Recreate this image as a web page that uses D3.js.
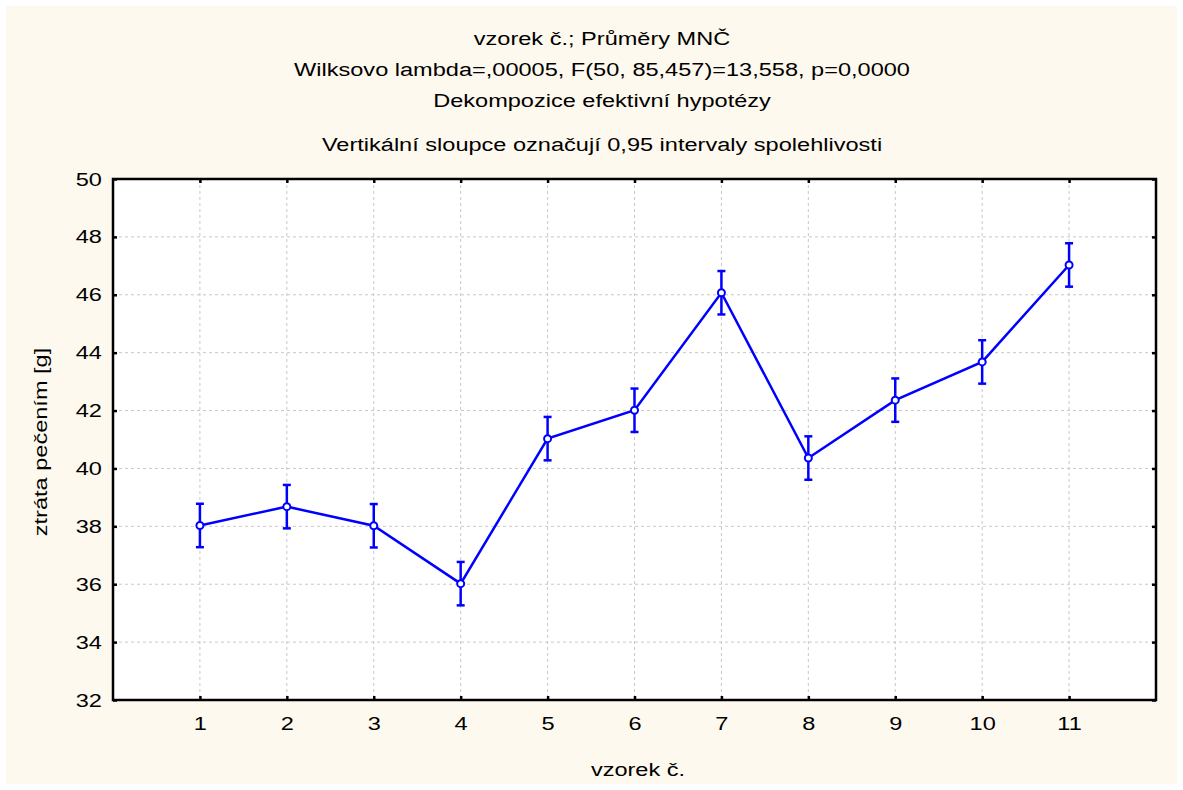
<!DOCTYPE html>
<html>
<head>
<meta charset="utf-8">
<script src="https://cdn.jsdelivr.net/npm/d3@7"></script>
<style>
  body { margin: 0; background: #fff; }
  text { font-family: "Liberation Sans", Arial, sans-serif; font-size: 19px; fill: #000; }
</style>
</head>
<body>
<div class="chart"></div>
<script>
// data
var samples = [1, 2, 3, 4, 5, 6, 7, 8, 9, 10, 11];
var means = [38.03, 38.68, 38.02, 36.02, 41.03, 42.01, 46.07, 40.36, 42.36, 43.68, 47.03];
var lower = [37.28, 37.93, 37.27, 35.27, 40.28, 41.26, 45.32, 39.61, 41.61, 42.93, 46.28];
var upper = [38.78, 39.43, 38.77, 36.77, 41.78, 42.76, 46.82, 41.11, 43.11, 44.43, 47.78];
var yTicks = [32, 34, 36, 38, 40, 42, 44, 46, 48, 50];
var titleLines = [
  "vzorek č.; Průměry MNČ",
  "Wilksovo lambda=,00005, F(50, 85,457)=13,558, p=0,0000",
  "Dekompozice efektivní hypotézy",
  "Vertikální sloupce označují 0,95 intervaly spolehlivosti"
];

// the reference text is drawn horizontally stretched
var sx = 1.24;

var svgWidth = 1183;
var svgHeight = 790;

var margin = { top: 179, right: 27, bottom: 90, left: 113 };
var width = 1156 - margin.left;
var height = 700 - margin.top;

var svg = d3.select(".chart")
  .append("svg")
  .attr("width", svgWidth)
  .attr("height", svgHeight);

// cream background with thin white border
svg.append("rect")
  .attr("x", 6).attr("y", 6)
  .attr("width", svgWidth - 12).attr("height", svgHeight - 12)
  .attr("fill", "#fef9ee");

// titles
var titleY = [45, 76, 107, 151];
svg.selectAll(".title")
  .data(titleLines)
  .enter()
  .append("text")
  .attr("class", "title")
  .attr("transform", (d, i) => `translate(602, ${titleY[i]}) scale(${sx}, 1)`)
  .attr("text-anchor", "middle")
  .text(d => d);

var chartGroup = svg.append("g")
  .attr("transform", `translate(${margin.left}, ${margin.top})`);

var xScale = d3.scaleLinear().domain([0, 12]).range([0, width]);
var yScale = d3.scaleLinear().domain([32, 50]).range([height, 0]);

chartGroup.append("rect")
  .attr("width", width).attr("height", height)
  .attr("fill", "#fff");

// grid
chartGroup.selectAll(".vgrid")
  .data(samples)
  .enter()
  .append("line")
  .attr("x1", d => xScale(d)).attr("x2", d => xScale(d))
  .attr("y1", 0).attr("y2", height)
  .attr("stroke", "#c8c8c8")
  .attr("stroke-dasharray", "3,3");

chartGroup.selectAll(".hgrid")
  .data(yTicks.slice(1, -1))
  .enter()
  .append("line")
  .attr("x1", 0).attr("x2", width)
  .attr("y1", d => yScale(d)).attr("y2", d => yScale(d))
  .attr("stroke", "#c8c8c8")
  .attr("stroke-dasharray", "3,3");

// axes (ticks inside on all four sides)
function styleAxis(g) {
  g.attr("font-family", null).attr("font-size", null);
  g.select(".domain").remove();
  g.selectAll(".tick line").attr("stroke", "#000").attr("stroke-width", 2.5);
  g.selectAll("text").attr("transform", `scale(${sx}, 1)`);
}

var bottomAxis = d3.axisBottom(xScale).tickValues(samples).tickSize(-4).tickPadding(16.5).tickFormat(d3.format("d"));
chartGroup.append("g")
  .attr("transform", `translate(0, ${height})`)
  .call(bottomAxis)
  .call(styleAxis);

chartGroup.append("g")
  .call(d3.axisTop(xScale).tickValues(samples).tickSize(-4).tickFormat(""))
  .call(styleAxis);

var leftAxis = d3.axisLeft(yScale).tickValues(yTicks).tickSize(-4).tickPadding(9).tickFormat(d3.format("d"));
chartGroup.append("g")
  .call(leftAxis)
  .call(styleAxis);

chartGroup.append("g")
  .attr("transform", `translate(${width}, 0)`)
  .call(d3.axisRight(yScale).tickValues(yTicks).tickSize(-4).tickFormat(""))
  .call(styleAxis);

// frame
chartGroup.append("rect")
  .attr("width", width).attr("height", height)
  .attr("fill", "none")
  .attr("stroke", "#000")
  .attr("stroke-width", 2.5);

// axis labels
svg.append("text")
  .attr("transform", `translate(638, 776) scale(${sx}, 1)`)
  .attr("text-anchor", "middle")
  .text("vzorek č.");

svg.append("text")
  .attr("transform", `translate(47, 442) rotate(-90) scale(${sx}, 1)`)
  .attr("text-anchor", "middle")
  .text("ztráta pečením [g]");

// series
var pts = samples.map((s, i) => ({ x: s, m: means[i], lo: lower[i], hi: upper[i] }));

chartGroup.append("path")
  .datum(pts)
  .attr("fill", "none")
  .attr("stroke", "#0000ff")
  .attr("stroke-width", 2.5)
  .attr("d", d3.line().x(d => xScale(d.x)).y(d => yScale(d.m)));

var bars = chartGroup.selectAll(".err")
  .data(pts)
  .enter()
  .append("g")
  .attr("stroke", "#0000ff")
  .attr("stroke-width", 2.5);

bars.append("line")
  .attr("x1", d => xScale(d.x)).attr("x2", d => xScale(d.x))
  .attr("y1", d => yScale(d.lo)).attr("y2", d => yScale(d.hi));
bars.append("line")
  .attr("x1", d => xScale(d.x) - 4).attr("x2", d => xScale(d.x) + 4)
  .attr("y1", d => yScale(d.lo)).attr("y2", d => yScale(d.lo));
bars.append("line")
  .attr("x1", d => xScale(d.x) - 4).attr("x2", d => xScale(d.x) + 4)
  .attr("y1", d => yScale(d.hi)).attr("y2", d => yScale(d.hi));

chartGroup.selectAll("circle")
  .data(pts)
  .enter()
  .append("circle")
  .attr("cx", d => xScale(d.x))
  .attr("cy", d => yScale(d.m))
  .attr("r", 3.5)
  .attr("fill", "#fff")
  .attr("stroke", "#0000ff")
  .attr("stroke-width", 2);
</script>
</body>
</html>
